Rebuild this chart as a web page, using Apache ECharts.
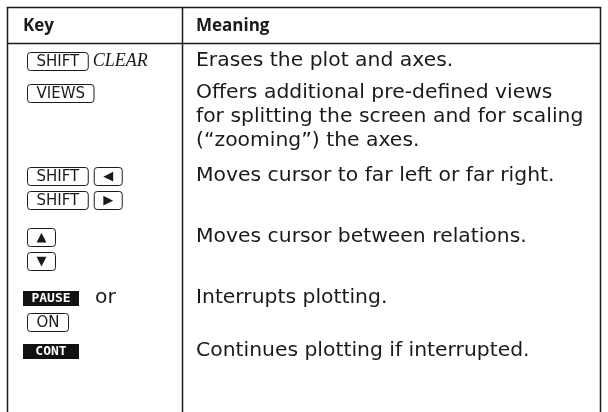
<!DOCTYPE html>
<html><head><meta charset="utf-8">
<script src="https://cdn.jsdelivr.net/npm/echarts/dist/echarts.min.js"></script>
<style>html,body{margin:0;padding:0;background:#fff}#c{width:608px;height:412px}</style>
</head><body><div id="c"></div>
<script>
// ---- data ----
const headers = ['Key', 'Meaning'];
// each row: list of lines; each line: list of [kind, text]
const keyColumn = [
  [[['key', 'SHIFT'], ['italic', 'CLEAR']]],
  [[['key', 'VIEWS']]],
  [[['key', 'SHIFT'], ['key', '◀']], [['key', 'SHIFT'], ['key', '▶']]],
  [[['key', '▲']], [['key', '▼']]],
  [[['menu', 'PAUSE'], ['text', 'or']], [['key', 'ON']]],
  [[['menu', 'CONT']]]
];
const meanings = [
  ['Erases the plot and axes.'],
  ['Offers additional pre-defined views', 'for splitting the screen and for scaling', '(“zooming”) the axes.'],
  ['Moves cursor to far left or far right.'],
  ['Moves cursor between relations.'],
  ['Interrupts plotting.'],
  ['Continues plotting if interrupted.']
];

// ---- layout ----
const L = {
  left: 7.5, right: 600.5, top: 7.5, headBottom: 43.5, divider: 182.5, bottom: 420,
  keyX: 27, textX: 196, headY: 26, lineH: 24,
  rowY: [61, 93, 176, 237, 298, 351]
};
const FONT_BODY = "19px 'DejaVu Sans', sans-serif";
const BODY_SX = 1.07;
const FONT_HEAD = "bold 17px 'Open Sans', 'DejaVu Sans', sans-serif";
const FONT_KEY = "15px 'DejaVu Sans', sans-serif";
const FONT_ARROW = "13px 'DejaVu Sans', sans-serif";
const FONT_ITAL = "italic 18px 'Liberation Serif', serif";
const FONT_MENU = "bold 13px 'DejaVu Sans Mono', monospace";
const INK = '#1a1a1a';

const ctx = document.createElement('canvas').getContext('2d');
function measure(s, font) { ctx.font = font; return ctx.measureText(s).width; }

const g = [];
function line(x1, y1, x2, y2) {
  g.push({ type: 'line', shape: { x1, y1, x2, y2 }, style: { stroke: INK, lineWidth: 1.5 } });
}
function text(x, y, s, font, fill, align, sx) {
  g.push({ type: 'text', x, y, scaleX: sx || 1,
    style: { text: s, font, fill: fill || INK, align: align || 'left', verticalAlign: 'middle' } });
}

// table frame
line(L.left - 0.75, L.top, L.right + 0.75, L.top);
line(L.left, L.top, L.left, L.bottom);
line(L.right, L.top, L.right, L.bottom);
line(L.divider, L.top, L.divider, L.bottom);
line(L.left, L.headBottom, L.right, L.headBottom);

// header
text(23, L.headY, headers[0], FONT_HEAD);
text(L.textX, L.headY, headers[1], FONT_HEAD);

// key column
keyColumn.forEach((row, i) => {
  row.forEach((ln, j) => {
    const y = L.rowY[i] + j * L.lineH;
    let x = L.keyX;
    ln.forEach(([kind, s]) => {
      if (kind === 'key') {
        const arrow = s.length === 1;
        const font = arrow ? FONT_ARROW : FONT_KEY;
        const w = Math.max(measure(s, font) + 18, 25);
        g.push({ type: 'rect', shape: { x: x + 0.5, y: y - 8.5, width: w, height: 18, r: 3 },
          style: { fill: '#fff', stroke: INK, lineWidth: 1 } });
        text(x + 0.5 + w / 2, y + 1, s, font, INK, 'center');
        x += w + 6;
      } else if (kind === 'italic') {
        text(x - 1, y, s, FONT_ITAL);
        x += measure(s, FONT_ITAL) + 6;
      } else if (kind === 'menu') {
        const w = 56;
        g.push({ type: 'rect', shape: { x: x - 4, y: y - 7, width: w, height: 15 }, style: { fill: '#111' } });
        text(x - 4 + w / 2, y + 0.5, s, FONT_MENU, '#fff', 'center');
        x += w + 12;
      } else {
        text(x, y, s, FONT_BODY, INK, 'left', BODY_SX);
        x += measure(s, FONT_BODY) * BODY_SX + 6;
      }
    });
  });
});

// meaning column
meanings.forEach((row, i) => {
  row.forEach((s, j) => text(L.textX, L.rowY[i] + j * L.lineH, s, FONT_BODY, INK, 'left', BODY_SX));
});

const chart = echarts.init(document.getElementById('c'), null, { renderer: 'canvas' });
chart.setOption({ backgroundColor: '#fff', animation: false, graphic: { elements: g } });
</script>
</body></html>
